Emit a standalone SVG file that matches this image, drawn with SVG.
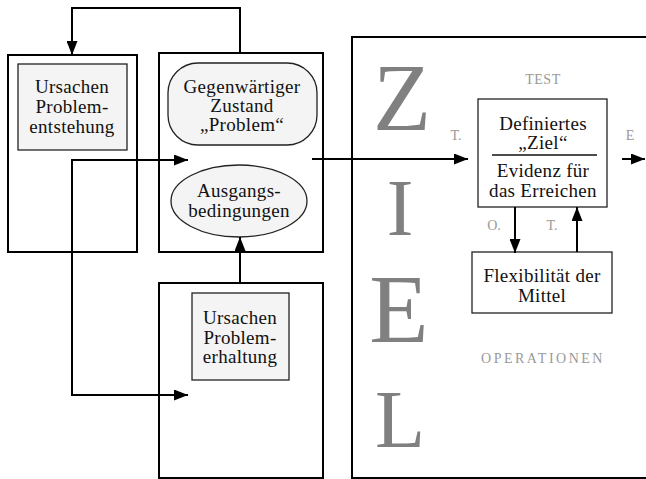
<svg xmlns="http://www.w3.org/2000/svg" width="646" height="479" viewBox="0 0 646 479">
<defs>
<marker id="ah" viewBox="0 0 14 11" refX="14" refY="5.5" markerWidth="14" markerHeight="11" markerUnits="userSpaceOnUse" orient="auto">
<path d="M0,0 L14,5.5 L0,11 Z" fill="#000"/>
</marker>
</defs>
<style>
.frame{fill:none;stroke:#000;stroke-width:2}
.inner{fill:#f4f4f4;stroke:#222;stroke-width:1.3}
.box{fill:#fff;stroke:#222;stroke-width:1.3}
text{font-family:'Liberation Serif','DejaVu Serif',serif}
.t{font-size:19px;letter-spacing:0.3px;fill:#111;text-anchor:middle}
.lab{font-size:14px;fill:#999;text-anchor:middle}
.big{fill:#808080;text-anchor:middle}
.c{fill:none;stroke:#000;stroke-width:2}
</style>
<rect x="0" y="0" width="646" height="479" fill="#fff"/>

<g id="box-entstehung">
<rect class="frame" x="8" y="55" width="129" height="197"/>
<rect class="inner" x="18" y="64" width="109" height="86"/>
<text class="t" x="72" y="93">Ursachen</text>
<text class="t" x="72" y="113">Problem-</text>
<text class="t" x="72" y="133">entstehung</text>
</g>

<g id="box-zustand">
<rect class="frame" x="159" y="53" width="164" height="199"/>
<rect class="inner" x="168" y="63" width="149" height="82" rx="30" ry="30"/>
<text class="t" x="242" y="93">Gegenwärtiger</text>
<text class="t" x="242" y="112">Zustand</text>
<text class="t" x="242" y="131">„Problem“</text>
<ellipse class="inner" cx="239" cy="201" rx="68" ry="36"/>
<text class="t" x="239" y="197">Ausgangs-</text>
<text class="t" x="239" y="217">bedingungen</text>
</g>

<g id="box-erhaltung">
<rect class="frame" x="159" y="283" width="164" height="195"/>
<rect class="inner" x="192" y="293" width="97" height="87"/>
<text class="t" x="240" y="324">Ursachen</text>
<text class="t" x="240" y="344">Problem-</text>
<text class="t" x="240" y="363">erhaltung</text>
</g>

<g id="box-ziel">
<path class="frame" d="M647,37 H352 V478 H647"/>
<text class="big" x="402" y="130" font-size="95">Z</text>
<text class="big" x="400" y="235" font-size="80">I</text>
<text class="big" x="399" y="342" font-size="97">E</text>
<text class="big" x="400" y="447" font-size="82">L</text>
<text class="lab" x="543" y="84" font-size="15" letter-spacing="0.5">TEST</text>
<text class="lab" x="543" y="363" font-size="15" letter-spacing="2.5">OPERATIONEN</text>
</g>

<g id="box-definiertes">
<rect class="box" x="478" y="99" width="129" height="108"/>
<text class="t" x="543" y="130">Definiertes</text>
<text class="t" x="543" y="149">„Ziel“</text>
<line x1="492" y1="155" x2="597" y2="155" stroke="#111" stroke-width="1.3"/>
<text class="t" x="543" y="177">Evidenz für</text>
<text class="t" x="543" y="197">das Erreichen</text>
</g>

<g id="box-flexibilitaet">
<rect class="box" x="472" y="252" width="140" height="61"/>
<text class="t" x="542" y="282" letter-spacing="0.6">Flexibilität der</text>
<text class="t" x="542" y="302" letter-spacing="0.6">Mittel</text>
</g>

<g id="labels">
<text class="lab" x="456" y="140">T.</text>
<text class="lab" x="630" y="140">E</text>
<text class="lab" x="494" y="230">O.</text>
<text class="lab" x="552" y="230">T.</text>
</g>

<g id="connectors">
<path class="c" d="M240,53 V8 H72 V55" marker-end="url(#ah)"/>
<path class="c" d="M72,280 V160 H188" marker-end="url(#ah)"/>
<path class="c" d="M72,280 V395 H188" marker-end="url(#ah)"/>
<path class="c" d="M240,283 V237" marker-end="url(#ah)"/>
<path class="c" d="M312,159 H468" marker-end="url(#ah)"/>
<path class="c" d="M622,159 H645" marker-end="url(#ah)"/>
<path class="c" d="M515,207 V253" marker-end="url(#ah)"/>
<path class="c" d="M577,252 V207" marker-end="url(#ah)"/>
</g>
</svg>
